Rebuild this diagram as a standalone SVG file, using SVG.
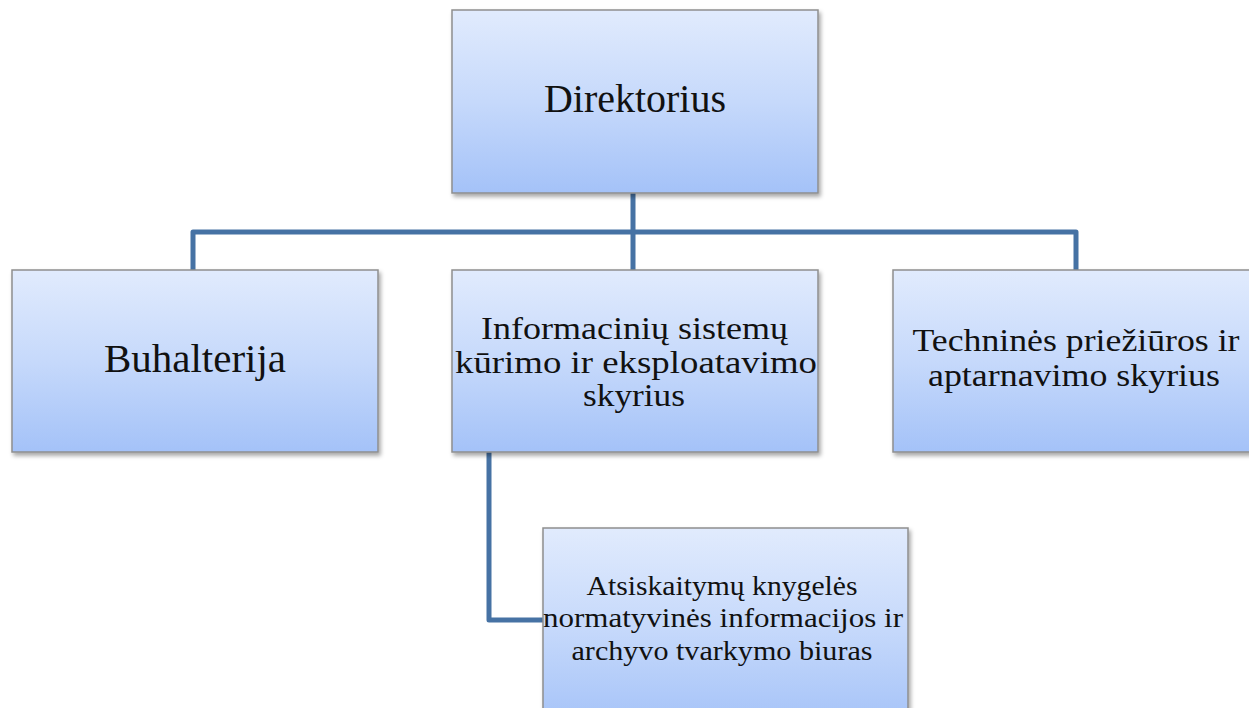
<svg xmlns="http://www.w3.org/2000/svg" width="1249" height="708" viewBox="0 0 1249 708">
  <defs>
    <linearGradient id="boxGrad" x1="0" y1="0" x2="0" y2="1">
      <stop offset="0" stop-color="#e1ebfd"/>
      <stop offset="0.5" stop-color="#c6d9fb"/>
      <stop offset="1" stop-color="#a4c2f8"/>
    </linearGradient>
    <filter id="shadow" x="-10%" y="-10%" width="130%" height="130%">
      <feDropShadow dx="2" dy="3" stdDeviation="2" flood-color="#000" flood-opacity="0.35"/>
    </filter>
  </defs>
  <style>
    .box { fill: url(#boxGrad); stroke: #8e8e8e; stroke-width: 1.5; filter: url(#shadow); }
    .conn { fill: none; stroke: #4672a4; stroke-width: 5; stroke-linejoin: round; }
    .t { font-family: "Liberation Serif", "Times New Roman", serif; fill: #111; text-anchor: middle; }
    .big { font-size: 40px; }
    .mid { font-size: 32px; }
    .small { font-size: 27px; }
  </style>
  <rect width="1249" height="708" fill="#ffffff"/>
  <g id="connectors">
    <path class="conn" d="M633,193 V232 M193,270 V232 H1076 V270 M633,232 V270"/>
    <path class="conn" d="M489,452 V620 H543"/>
  </g>
  <g id="node-direktorius">
    <rect class="box" x="452" y="10" width="366" height="183"/>
    <text class="t big" x="635" y="112" textLength="182" lengthAdjust="spacingAndGlyphs">Direktorius</text>
  </g>
  <g id="node-buhalterija">
    <rect class="box" x="12" y="270" width="366" height="182"/>
    <text class="t big" x="195" y="372" textLength="182" lengthAdjust="spacingAndGlyphs">Buhalterija</text>
  </g>
  <g id="node-informaciniu">
    <rect class="box" x="452" y="270" width="366" height="182"/>
    <text class="t mid" x="634.5" y="339" textLength="307" lengthAdjust="spacingAndGlyphs">Informacinių  sistemų</text>
    <text class="t mid" x="636" y="373" textLength="362" lengthAdjust="spacingAndGlyphs">kūrimo ir eksploatavimo</text>
    <text class="t mid" x="634" y="406" textLength="102" lengthAdjust="spacingAndGlyphs">skyrius</text>
  </g>
  <g id="node-technines">
    <rect class="box" x="893" y="270" width="370" height="182"/>
    <text class="t mid" x="1076" y="351" textLength="327" lengthAdjust="spacingAndGlyphs">Techninės priežiūros ir</text>
    <text class="t mid" x="1074" y="386" textLength="292" lengthAdjust="spacingAndGlyphs">aptarnavimo  skyrius</text>
  </g>
  <g id="node-atsiskaitymu">
    <rect class="box" x="543" y="528" width="365" height="200"/>
    <text class="t small" x="722" y="595" textLength="271" lengthAdjust="spacingAndGlyphs">Atsiskaitymų  knygelės</text>
    <text class="t small" x="723" y="627" textLength="360" lengthAdjust="spacingAndGlyphs">normatyvinės  informacijos  ir</text>
    <text class="t small" x="722" y="660" textLength="301" lengthAdjust="spacingAndGlyphs">archyvo  tvarkymo  biuras</text>
  </g>
</svg>
